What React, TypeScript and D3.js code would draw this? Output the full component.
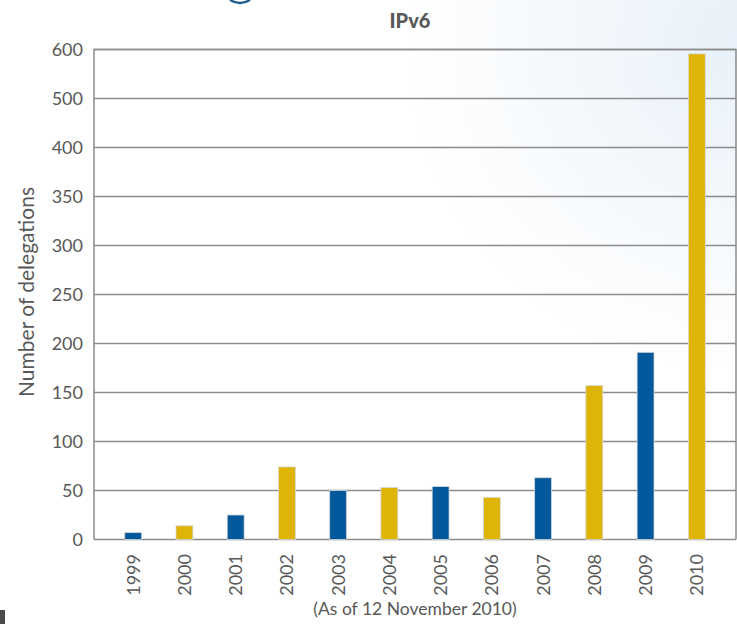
import React, { useRef, useEffect } from 'react';
import * as d3 from 'd3';

const years = ['1999', '2000', '2001', '2002', '2003', '2004', '2005', '2006', '2007', '2008', '2009', '2010'];
const delegations = [7, 14, 25, 74, 50, 53, 54, 43, 63, 157, 191, 591];
// the source axis is labelled unevenly (no 450 / 550), so ticks are listed as printed
const yTicks = [0, 50, 100, 150, 200, 250, 300, 350, 400, 500, 600];

const BLUE = '#03599c';
const YELLOW = '#deb406';
const TEXT = '#585858';
const FONT = 'Lato, "Open Sans", sans-serif';

const W = 737;
const H = 624;

const App: React.FC = () => {
  const ref = useRef<SVGSVGElement | null>(null);

  useEffect(() => {
    if (!ref.current) return;
    const svg = d3.select(ref.current);
    svg.selectAll('*').remove();

    const left = 94;
    const right = 736;
    const bottom = 539.5;
    const gap = 49;

    // background tint, top right only
    const defs = svg.append('defs');
    const grad = defs
      .append('radialGradient')
      .attr('id', 'bg')
      .attr('gradientUnits', 'userSpaceOnUse')
      .attr('cx', 737)
      .attr('cy', 40)
      .attr('r', 330);
    grad.append('stop').attr('offset', '0%').attr('stop-color', '#e8f1f9');
    grad.append('stop').attr('offset', '50%').attr('stop-color', '#f4f8fc');
    grad.append('stop').attr('offset', '100%').attr('stop-color', '#ffffff');
    svg.append('rect').attr('width', W).attr('height', H).attr('fill', 'url(#bg)');

    // small decorations from the slide
    svg
      .append('path')
      .attr('d', 'M230,0 Q240,6 250,0')
      .attr('fill', 'none')
      .attr('stroke', '#1d5f95')
      .attr('stroke-width', 2.5);
    svg.append('rect').attr('x', 0).attr('y', 610).attr('width', 5).attr('height', 14).attr('fill', '#4a4a4a');

    const x = d3
      .scaleBand<string>()
      .domain(years)
      .range([left, right])
      .paddingInner(0.67)
      .paddingOuter(0.6);

    const y = d3
      .scaleLinear()
      .domain([0, 400, 500, 600])
      .range([bottom, bottom - 8 * gap, bottom - 9 * gap, bottom - 10 * gap]);

    // grid
    svg
      .append('g')
      .selectAll('line')
      .data(yTicks)
      .enter()
      .append('line')
      .attr('x1', left)
      .attr('x2', right)
      .attr('y1', (d) => y(d))
      .attr('y2', (d) => y(d))
      .attr('stroke', '#8c8c8c')
      .attr('stroke-width', 1.5);

    // frame
    svg
      .append('path')
      .attr('d', `M${left},${bottom}V${y(600)}H${right}V${bottom}`)
      .attr('fill', 'none')
      .attr('stroke', '#8c8c8c')
      .attr('stroke-width', 1.5);

    // bars
    svg
      .append('g')
      .selectAll('rect')
      .data(delegations)
      .enter()
      .append('rect')
      .attr('x', (_, i) => x(years[i]) as number)
      .attr('width', x.bandwidth())
      .attr('y', (d) => y(d))
      .attr('height', (d) => bottom - y(d))
      .attr('fill', (_, i) => (i % 2 === 0 ? BLUE : YELLOW))
      .attr('stroke', '#d6d6d6')
      .attr('stroke-width', 0.8);

    // y tick labels
    svg
      .append('g')
      .selectAll('text')
      .data(yTicks)
      .enter()
      .append('text')
      .attr('x', 83)
      .attr('y', (d) => y(d))
      .attr('dy', '0.36em')
      .attr('text-anchor', 'end')
      .attr('font-family', FONT)
      .attr('font-size', 18)
      .attr('fill', TEXT)
      .text((d) => String(d));

    // x tick labels
    svg
      .append('g')
      .selectAll('text')
      .data(years)
      .enter()
      .append('text')
      .attr(
        'transform',
        (d) => `translate(${(x(d) as number) + x.bandwidth() / 2},554) rotate(-90)`
      )
      .attr('dy', '0.36em')
      .attr('text-anchor', 'end')
      .attr('font-family', FONT)
      .attr('font-size', 18)
      .attr('fill', TEXT)
      .text((d) => d);

    // axis title
    svg
      .append('text')
      .attr('transform', `translate(26,292) rotate(-90)`)
      .attr('dy', '0.36em')
      .attr('text-anchor', 'middle')
      .attr('font-family', FONT)
      .attr('font-size', 21)
      .attr('fill', TEXT)
      .text('Number of delegations');

    // chart title
    svg
      .append('text')
      .attr('x', 410)
      .attr('y', 28)
      .attr('text-anchor', 'middle')
      .attr('font-family', FONT)
      .attr('font-weight', 900)
      .attr('font-size', 20)
      .attr('fill', TEXT)
      .text('IPv6');

    // footnote
    svg
      .append('text')
      .attr('x', (left + right) / 2)
      .attr('y', 615)
      .attr('text-anchor', 'middle')
      .attr('font-family', FONT)
      .attr('font-size', 17.5)
      .attr('fill', TEXT)
      .text('(As of 12 November 2010)');
  }, []);

  return (
    <svg
      ref={ref}
      width={W}
      height={H}
      style={{ position: 'absolute', top: 0, left: 0, display: 'block' }}
    />
  );
};

export default App;
